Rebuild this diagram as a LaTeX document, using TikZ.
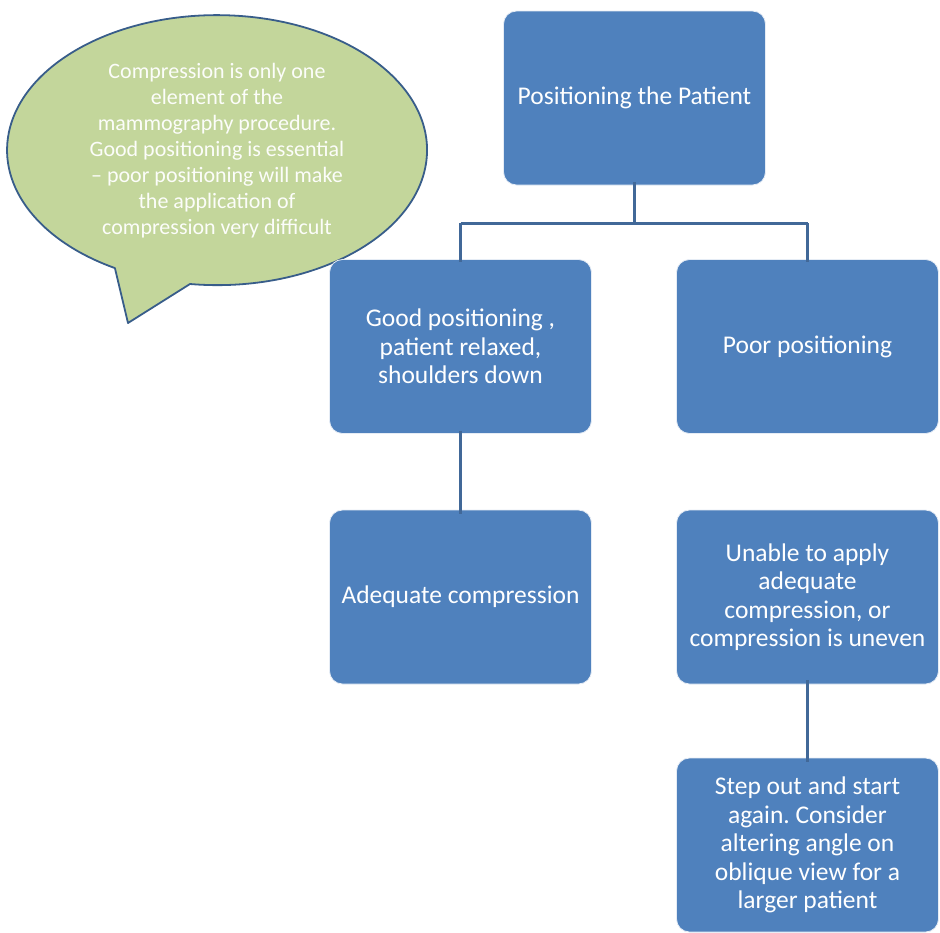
\documentclass[tikz,border=0pt]{standalone}
\usepackage{fontspec}
\setmainfont{Carlito}
\frenchspacing
\definecolor{boxfill}{RGB}{79,129,189}
\definecolor{linecol}{RGB}{65,104,152}
\definecolor{bubfill}{RGB}{195,214,155}
\definecolor{bubline}{RGB}{56,93,138}
\begin{document}
\begin{tikzpicture}[x=1pt,y=-1pt,
  stepbox/.style={draw=white!85!boxfill, line width=0.8pt, fill=boxfill, rounded corners=13pt,
    minimum width=262pt, minimum height=174pt, inner sep=4pt, align=center,
    text=white, font=\fontsize{25.5}{28.5}\selectfont},
  conn/.style={draw=linecol, line width=3pt},
  bubtext/.style={text=white!95!bubfill, align=center, font=\fontsize{22}{26}\selectfont}]
\useasboundingbox (0,0) rectangle (940,932);
% speech bubble
\filldraw[fill=bubfill, draw=bubline, line width=1.8pt, line join=round]
  (190,284) arc[start angle=97.4, end angle=-240.9, x radius=210, y radius=135]
  -- (128,323) -- cycle;
\node[bubtext] (bub) at (217,151) {Compression is only one\\element of the\\mammography procedure.\\Good positioning is essential\\– poor positioning will make\\the application of\\compression very difficult};
% boxes
\node[stepbox] (top) at (634.5,98) {Positioning the Patient};
\node[stepbox] (good) at (460.5,346.5) {Good positioning ,\\patient relaxed,\\shoulders down};
\node[stepbox] (poor) at (807.5,346.5) {Poor positioning};
\node[stepbox] (adeq) at (460.5,597) {Adequate compression};
\node[stepbox] (unable) at (807.5,597) {Unable to apply\\adequate\\compression, or\\compression is uneven};
\node[stepbox] (stepout) at (807.5,845) {Step out and start\\again. Consider\\altering angle on\\oblique view for a\\larger patient};
% connectors
\coordinate (j) at (634.5,223);
\draw[conn] ([yshift=3pt]top.south) -- (j);
\draw[conn] (good.north |- j) -- (poor.north |- j);
\draw[conn] (good.north |- j) -- ([yshift=-3pt]good.north);
\draw[conn] (poor.north |- j) -- ([yshift=-3pt]poor.north);
\draw[conn] ([yshift=3pt]good.south) -- ([yshift=-4pt]adeq.north);
\draw[conn] ([yshift=4pt]unable.south) -- ([yshift=-4pt]stepout.north);
\end{tikzpicture}
\end{document}
